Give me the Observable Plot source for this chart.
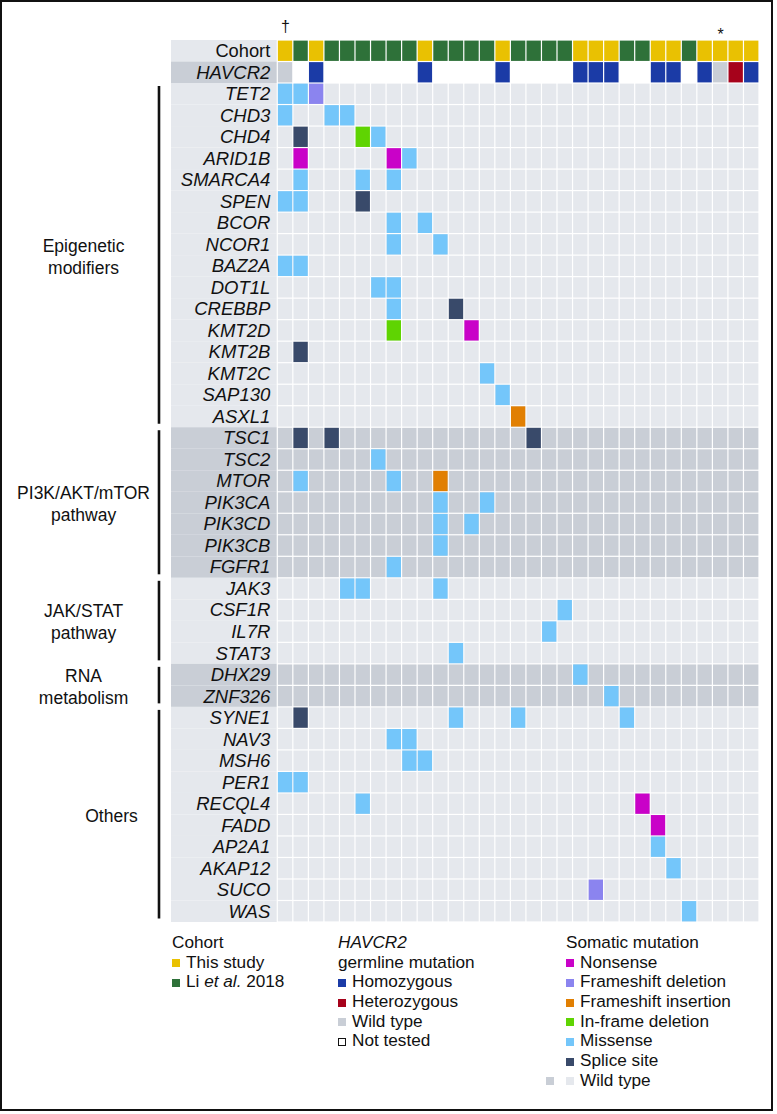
<!DOCTYPE html>
<html>
<head>
<meta charset="utf-8">
<script src="https://cdn.jsdelivr.net/npm/d3@7"></script>
<script src="https://cdn.jsdelivr.net/npm/@observablehq/plot@0.6"></script>
<style>
  html, body { margin: 0; padding: 0; background: #fff; }
  #fig { position: relative; width: 777px; height: 1114px; overflow: hidden;
         font-family: "Liberation Sans", Arial, Helvetica, sans-serif; color: #111; }
  #chart { position: absolute; left: 0; top: 0; }
  #frame { position: absolute; left: 0; top: 0; width: 773px; height: 1111px;
           box-sizing: border-box; border: 2.5px solid #111; pointer-events: none; }
  .legcol { position: absolute; font-size: 17.2px; line-height: 19.7px; white-space: nowrap; }
  .legline { position: relative; height: 19.7px; padding-left: 14px; }
  .legline.title { padding-left: 0; }
  .sw { position: absolute; left: 0; top: 6.5px; width: 8px; height: 8px; box-sizing: border-box; }
</style>
</head>
<body>
<div id="fig">
  <div id="chart"></div>
  <div id="legend"></div>
  <div id="frame"></div>
</div>
<script>
// ---------------- DATA ----------------
const patients = d3.range(1, 32); // 31 patients (columns)

const cohortCategories = ["This study", "Li et al. 2018"];
const cohortOfPatient = [
  "This study", "Li et al. 2018", "This study",
  "Li et al. 2018", "Li et al. 2018", "Li et al. 2018", "Li et al. 2018", "Li et al. 2018", "Li et al. 2018",
  "This study",
  "Li et al. 2018", "Li et al. 2018", "Li et al. 2018", "Li et al. 2018",
  "This study",
  "Li et al. 2018", "Li et al. 2018", "Li et al. 2018", "Li et al. 2018",
  "This study", "This study", "This study",
  "Li et al. 2018", "Li et al. 2018",
  "This study", "This study",
  "Li et al. 2018",
  "This study", "This study", "This study", "This study"
];

const havcr2Categories = ["Homozygous", "Heterozygous", "Wild type", "Not tested"];
const havcr2OfPatient = [
  "Wild type", "Not tested", "Homozygous",
  "Not tested", "Not tested", "Not tested", "Not tested", "Not tested", "Not tested",
  "Homozygous",
  "Not tested", "Not tested", "Not tested", "Not tested",
  "Homozygous",
  "Not tested", "Not tested", "Not tested", "Not tested",
  "Homozygous", "Homozygous", "Homozygous",
  "Not tested", "Not tested",
  "Homozygous", "Homozygous",
  "Not tested",
  "Homozygous", "Wild type", "Heterozygous", "Homozygous"
];

const groupLabels = ["Epigenetic\nmodifiers", "PI3K/AKT/mTOR\npathway", "JAK/STAT\npathway", "RNA\nmetabolism", "Others"];
const groupGenes = [
  ["TET2", "CHD3", "CHD4", "ARID1B", "SMARCA4", "SPEN", "BCOR", "NCOR1", "BAZ2A", "DOT1L", "CREBBP", "KMT2D", "KMT2B", "KMT2C", "SAP130", "ASXL1"],
  ["TSC1", "TSC2", "MTOR", "PIK3CA", "PIK3CD", "PIK3CB", "FGFR1"],
  ["JAK3", "CSF1R", "IL7R", "STAT3"],
  ["DHX29", "ZNF326"],
  ["SYNE1", "NAV3", "MSH6", "PER1", "RECQL4", "FADD", "AP2A1", "AKAP12", "SUCO", "WAS"]
];

const mutationTypes = ["Nonsense", "Frameshift deletion", "Frameshift insertion", "In-frame deletion", "Missense", "Splice site"];

// [gene, patient, mutation type]
const mutations = [
  ["TET2", 1, "Missense"], ["TET2", 2, "Missense"], ["TET2", 3, "Frameshift deletion"],
  ["CHD3", 1, "Missense"], ["CHD3", 4, "Missense"], ["CHD3", 5, "Missense"],
  ["CHD4", 2, "Splice site"], ["CHD4", 6, "In-frame deletion"], ["CHD4", 7, "Missense"],
  ["ARID1B", 2, "Nonsense"], ["ARID1B", 8, "Nonsense"], ["ARID1B", 9, "Missense"],
  ["SMARCA4", 2, "Missense"], ["SMARCA4", 6, "Missense"], ["SMARCA4", 8, "Missense"],
  ["SPEN", 1, "Missense"], ["SPEN", 2, "Missense"], ["SPEN", 6, "Splice site"],
  ["BCOR", 8, "Missense"], ["BCOR", 10, "Missense"],
  ["NCOR1", 8, "Missense"], ["NCOR1", 11, "Missense"],
  ["BAZ2A", 1, "Missense"], ["BAZ2A", 2, "Missense"],
  ["DOT1L", 7, "Missense"], ["DOT1L", 8, "Missense"],
  ["CREBBP", 8, "Missense"], ["CREBBP", 12, "Splice site"],
  ["KMT2D", 8, "In-frame deletion"], ["KMT2D", 13, "Nonsense"],
  ["KMT2B", 2, "Splice site"],
  ["KMT2C", 14, "Missense"],
  ["SAP130", 15, "Missense"],
  ["ASXL1", 16, "Frameshift insertion"],
  ["TSC1", 2, "Splice site"], ["TSC1", 4, "Splice site"], ["TSC1", 17, "Splice site"],
  ["TSC2", 7, "Missense"],
  ["MTOR", 2, "Missense"], ["MTOR", 8, "Missense"], ["MTOR", 11, "Frameshift insertion"],
  ["PIK3CA", 11, "Missense"], ["PIK3CA", 14, "Missense"],
  ["PIK3CD", 11, "Missense"], ["PIK3CD", 13, "Missense"],
  ["PIK3CB", 11, "Missense"],
  ["FGFR1", 8, "Missense"],
  ["JAK3", 5, "Missense"], ["JAK3", 6, "Missense"], ["JAK3", 11, "Missense"],
  ["CSF1R", 19, "Missense"],
  ["IL7R", 18, "Missense"],
  ["STAT3", 12, "Missense"],
  ["DHX29", 20, "Missense"],
  ["ZNF326", 22, "Missense"],
  ["SYNE1", 2, "Splice site"], ["SYNE1", 12, "Missense"], ["SYNE1", 16, "Missense"], ["SYNE1", 23, "Missense"],
  ["NAV3", 8, "Missense"], ["NAV3", 9, "Missense"],
  ["MSH6", 9, "Missense"], ["MSH6", 10, "Missense"],
  ["PER1", 1, "Missense"], ["PER1", 2, "Missense"],
  ["RECQL4", 6, "Missense"], ["RECQL4", 24, "Nonsense"],
  ["FADD", 25, "Nonsense"],
  ["AP2A1", 25, "Missense"],
  ["AKAP12", 26, "Missense"],
  ["SUCO", 21, "Frameshift deletion"],
  ["WAS", 27, "Missense"]
];

// annotation symbols above the cohort row: [patient, symbol]
const annotations = [[1, "\u2020"], [29, "*"]];

// ---------------- STYLE ----------------
const colorDomain = [
  "This study", "Li et al. 2018",
  "Homozygous", "Heterozygous", "Wild type", "Not tested",
  "Nonsense", "Frameshift deletion", "Frameshift insertion", "In-frame deletion", "Missense", "Splice site",
  "WT light", "WT dark"
];
const colorRange = [
  "#e9c102", "#2e7139",
  "#1b3ba6", "#a6021b", "#c9ced6", "#ffffff",
  "#c902c8", "#8b84ef", "#e17f02", "#5fd402", "#74c6fa", "#394a6a",
  "#e5e8ed", "#c9ced6"
];
const FONT = "Liberation Sans, Arial, Helvetica, sans-serif";

// layout (in column units of the x scale; 0 = first cell)
const X_MIN = -17.845;    // left edge of the figure
const BAND_X = -6.84;     // left edge of the row-label band
const BRACKET_X = -7.645; // group bracket
const GROUP_X = [-12.5, -12.5, -12.5, -12.5, -10.7]; // group label centres

// ---------------- DERIVED TABLES ----------------
const rowNames = ["Cohort", "HAVCR2", ...groupGenes.flat()];
const rowIndex = new Map(rowNames.map((r, i) => [r, i]));
const shadeOfRow = new Map([["Cohort", "WT light"], ["HAVCR2", "WT dark"]]);
groupGenes.forEach((genes, g) => genes.forEach(gene => shadeOfRow.set(gene, g % 2 ? "WT dark" : "WT light")));

const bandRows = rowNames.map((name, i) => ({name, i, shade: shadeOfRow.get(name)}));

const groups = [];
{
  let start = 2;
  groupGenes.forEach((genes, g) => {
    groups.push({g, label: groupLabels[g], start, end: start + genes.length});
    start += genes.length;
  });
}

const cells = [];
patients.forEach((p, k) => {
  cells.push({row: 0, p, cat: cohortOfPatient[k]});
  cells.push({row: 1, p, cat: havcr2OfPatient[k]});
});
groupGenes.flat().forEach(gene => {
  patients.forEach(p => cells.push({row: rowIndex.get(gene), p, cat: shadeOfRow.get(gene)}));
});
const mutCells = mutations.map(([gene, p, type]) => ({row: rowIndex.get(gene), p, cat: type}));

const ann = annotations.map(([p, s]) => ({p, s}));

// ---------------- PLOT ----------------
const inset = 0.6;
const chart = Plot.plot({
  width: 777,
  height: 930,
  marginLeft: 0, marginRight: 18, marginTop: 40, marginBottom: 8,
  x: {domain: [X_MIN, patients.length], axis: null},
  y: {domain: [0, rowNames.length], range: [40, 922], axis: null},
  color: {type: "ordinal", domain: colorDomain, range: colorRange},
  style: {fontFamily: FONT, color: "#111", background: "transparent"},
  marks: [
    // row-label band
    Plot.rect(bandRows, {x1: BAND_X, x2: 0, y1: d => d.i, y2: d => d.i + 1, fill: "shade", insetRight: inset}),
    // base cells (cohort, HAVCR2, wild type)
    Plot.rect(cells, {x1: d => d.p - 1, x2: d => d.p, y1: d => d.row, y2: d => d.row + 1, fill: "cat", inset}),
    // somatic mutations
    Plot.rect(mutCells, {x1: d => d.p - 1, x2: d => d.p, y1: d => d.row, y2: d => d.row + 1, fill: "cat", inset}),
    // row labels
    Plot.text(bandRows.filter(d => d.name === "Cohort"), {
      x: 0, y: d => d.i + 0.5, text: "name", textAnchor: "end", dx: -7.5, fontSize: 18.3, fill: "#111"
    }),
    Plot.text(bandRows.filter(d => d.name !== "Cohort"), {
      x: 0, y: d => d.i + 0.5, text: "name", textAnchor: "end", dx: -7.5, fontSize: 18.5, fontStyle: "italic", fill: "#111"
    }),
    // group brackets
    Plot.ruleX(groups, {x: BRACKET_X, y1: "start", y2: "end", stroke: "#111", strokeWidth: 2.6, insetTop: 3, insetBottom: 3.5}),
    // group labels
    Plot.text(groups, {
      x: d => GROUP_X[d.g], y: d => (d.start + d.end) / 2, text: "label",
      textAnchor: "middle", lineAnchor: "middle", lineHeight: 1.25, fontSize: 17.5, fill: "#111"
    }),
    // annotation symbols
    Plot.text(ann.filter(d => d.s !== "*"), {x: d => d.p - 0.5, y: -0.5, text: "s", fontSize: 16, dy: -3, fill: "#111"}),
    Plot.text(ann.filter(d => d.s === "*"), {x: d => d.p - 0.5, y: -0.5, text: "s", fontSize: 16, dy: 5, fill: "#111"})
  ]
});
document.getElementById("chart").appendChild(chart);

// ---------------- LEGEND ----------------
const colorOf = c => colorRange[colorDomain.indexOf(c)];
const legend = d3.select("#legend");
const LEG_TOP = 933;

function legendColumn(left, titles, items) {
  const col = legend.append("div").attr("class", "legcol").style("left", left + "px").style("top", LEG_TOP + "px");
  titles.forEach(t => col.append("div").attr("class", "legline title").html(t));
  items.forEach(it => {
    const line = col.append("div").attr("class", "legline");
    (it.extra || []).forEach(ex => {
      line.append("span").attr("class", "sw").style("left", ex.left + "px").style("background", colorOf(ex.cat));
    });
    const sw = line.append("span").attr("class", "sw").style("background", colorOf(it.cat));
    if (it.cat === "Not tested") sw.style("border", "1.6px solid #111");
    line.append("span").html(it.label);
  });
}
const fmt = s => s.replace("et al.", "<i>et al.</i>");

legendColumn(172, ["Cohort"], cohortCategories.map(c => ({cat: c, label: fmt(c)})));
legendColumn(338, ["<i>HAVCR2</i>", "germline mutation"], havcr2Categories.map(c => ({cat: c, label: c})));
legendColumn(566, ["Somatic mutation"], [
  ...mutationTypes.map(c => ({cat: c, label: c})),
  {cat: "WT light", label: "Wild type", extra: [{cat: "WT dark", left: -20}]}
]);
</script>
</body>
</html>
